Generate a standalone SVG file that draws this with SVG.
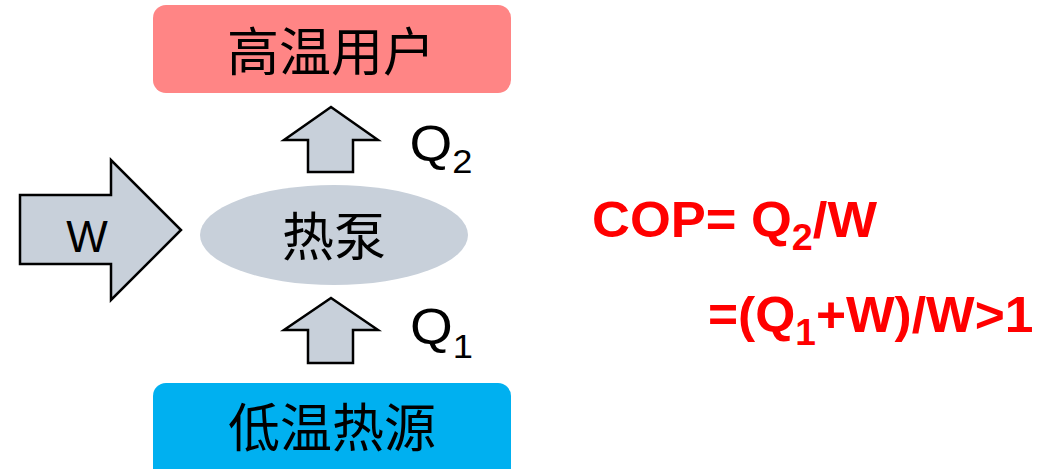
<svg xmlns="http://www.w3.org/2000/svg" width="1061" height="469" viewBox="0 0 1061 469">
<style>
.cjk{font-family:"Liberation Sans","Noto Sans CJK SC",sans-serif;fill:#000;text-anchor:middle;font-size:52px}
.lbl{font-family:"Liberation Sans",Arial,sans-serif;fill:#000}
.arr{fill:#C8D0DA;stroke:#000;stroke-width:2.5;stroke-linejoin:miter}
.red{font-family:"Liberation Sans",Arial,sans-serif;font-weight:bold;fill:#FF0000;font-size:50px}
</style>
<rect width="1061" height="469" fill="#fff"/>
<g id="high-user">
<rect x="153" y="5" width="358" height="88" rx="13" fill="#FF8585"/>
<text class="cjk" x="331" y="71">高温用户</text>
</g>
<g id="heat-pump">
<ellipse cx="334" cy="235" rx="134" ry="50" fill="#C8D0DA"/>
<text class="cjk" x="334" y="256">热泵</text>
</g>
<g id="low-source">
<rect x="153" y="383" width="358" height="100" rx="13" fill="#00B0F0"/>
<text class="cjk" x="332" y="447">低温热源</text>
</g>
<g id="connectors">
<g id="work">
<polygon class="arr" points="20,195 111,195 111,160 181,230 111,300 111,264 20,264"/>
<text class="lbl" x="87" y="252" font-size="44" text-anchor="middle">W</text>
</g>
<g id="q2">
<polygon class="arr" points="331,107 378,140 353,140 353,172 308,172 308,140 284,140"/>
<text class="lbl" transform="translate(409.5,161) scale(1.1,1)" font-size="50">Q<tspan font-size="33" dy="12">2</tspan></text>
</g>
<g id="q1">
<polygon class="arr" points="331,298 378,330 353,330 353,363 308,363 308,330 284,330"/>
<text class="lbl" transform="translate(410,344) scale(1.1,1)" font-size="50">Q<tspan font-size="33" dy="14">1</tspan></text>
</g>
</g>
<g id="formula">
<text class="red" transform="translate(592,237) scale(1.05,1)">COP= Q<tspan font-size="36" dy="13">2</tspan><tspan dy="-13">/W</tspan></text>
<text class="red" transform="translate(708,332) scale(1.03,1)">=(Q<tspan font-size="36" dy="13">1</tspan><tspan dy="-13">+W)/W&gt;1</tspan></text>
</g>
</svg>
